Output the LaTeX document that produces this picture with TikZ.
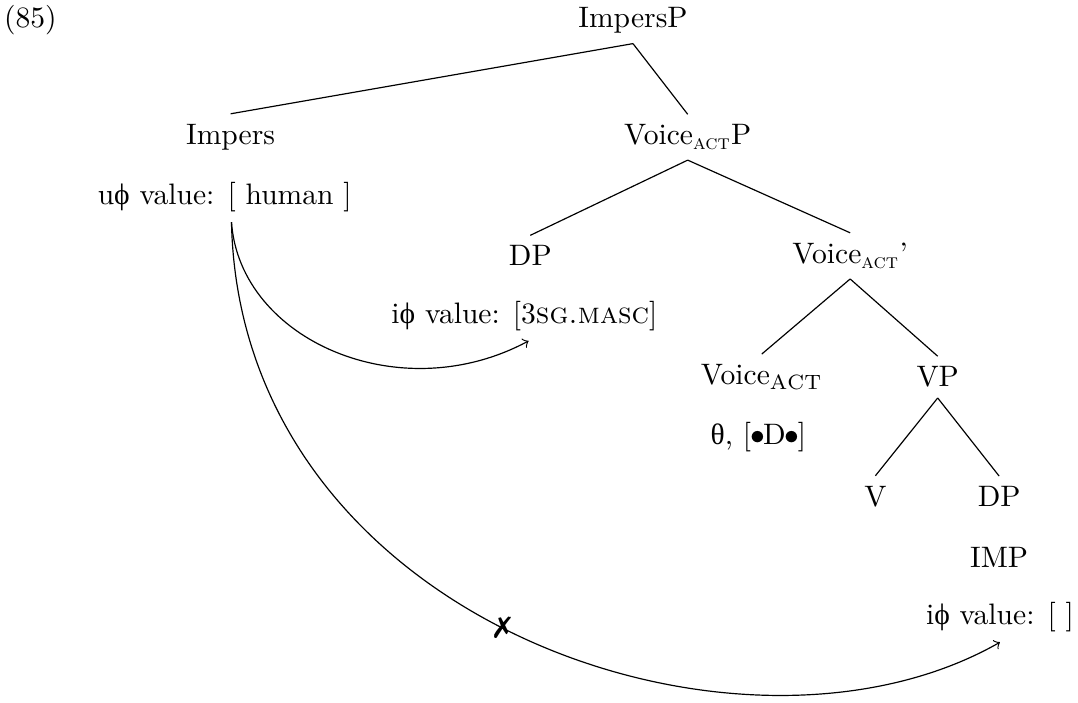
\documentclass[tikz,border=0pt]{standalone}
\usepackage{amsmath}
\usepackage{fontspec}
\usepackage{pifont}
\newfontfamily\grk{Liberation Serif}
\usetikzlibrary{calc, positioning}

\begin{document}
\begin{tikzpicture}[
        lbl/.style = {inner sep=3.33pt},
        edge/.style = {line width=0.4pt},
        agree/.style = {-to, line width=0.4pt}
    ]
    \useasboundingbox (0,0) rectangle (12.807,-8.34);

    %Nummer
    \node at(0.36,-0.24)(num)[]{(85)};

    %Knoten
    \node at(7.52,-0.24)(impersp)[lbl]{ImpersP};
    \node at(2.74,-1.63)(impers)[lbl]{Impers};
    \node at(2.67,-2.34)(human)[lbl]{u{\grk ϕ} value: [ human ]};
    \node at(8.17,-1.63)(voicep)[lbl]{Voice$_{\textsc{act}}$P};
    \node at(6.30,-3.04)(dp)[lbl]{DP};
    \node at(6.23,-3.75)(masc)[lbl]{i{\grk ϕ} value: [3\textsc{sg.masc}]};
    \node at(10.10,-3.04)(voicebar)[lbl]{Voice$_{\textsc{act}}$'};
    \node at(9.05,-4.48)(voice)[lbl]{Voice$_{\mathrm{ACT}}$};
    \node at(9.01,-5.19)(theta)[lbl]{{\grk θ}, [\kern-0.03em$\bullet$\kern-0.06em D\kern-0.06em$\bullet$\kern-0.03em]};
    \node at(11.14,-4.48)(vp)[lbl]{VP};
    \node at(10.40,-5.90)(v)[lbl]{V};
    \node at(11.87,-5.90)(dpimp)[lbl]{DP};
    \node at(11.87,-6.62)(imp)[lbl]{IMP};
    \node at(11.88,-7.33)(empty)[lbl]{i{\grk ϕ} value: [ ]};

    %Linien
    \draw[edge] (impersp.south) -- (impers.north);
    \draw[edge] (impersp.south) -- (voicep.north);
    \draw[edge] (voicep.south)  -- (dp.north);
    \draw[edge] (voicep.south)  -- (voicebar.north);
    \draw[edge] (voicebar.south) -- (voice.north);
    \draw[edge] (voicebar.south) -- (vp.north);
    \draw[edge] (vp.south)      -- (v.north);
    \draw[edge] (vp.south)      -- (dpimp.north);

    %Pfeile
    \draw[agree] ([xshift=0.08cm]human.south)
        .. controls (2.85,-4.04) and (4.75,-4.87) .. ([xshift=0.05cm]masc.south);
    \draw[agree] ([xshift=0.08cm]human.south)
        .. controls (2.85,-7.37) and (8.79,-9.39) .. (empty.south)
        node[pos=0.48](block){\ding{55}};

\end{tikzpicture}
\end{document}
